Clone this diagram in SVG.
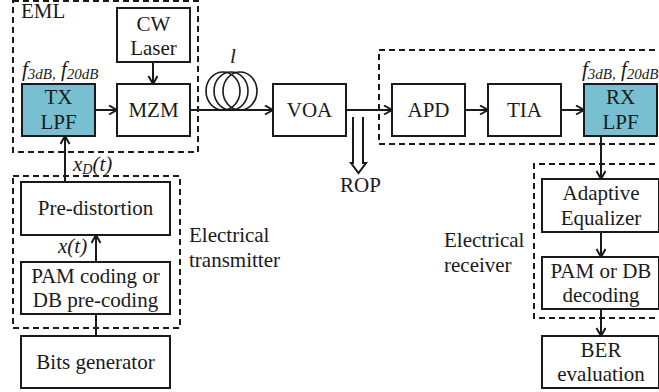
<svg xmlns="http://www.w3.org/2000/svg" width="659" height="392" viewBox="0 0 659 392" font-family="'Liberation Serif', 'DejaVu Serif', serif">
<defs>
<style>
.box{fill:#fff;stroke:#1a1a1a;stroke-width:2}
.lpf{fill:#77bfd1;stroke:#1a1a1a;stroke-width:2}
.dash{fill:none;stroke:#1a1a1a;stroke-width:2;stroke-dasharray:6,4}
text{font-family:'Liberation Serif','DejaVu Serif',serif;font-size:21px;fill:#1a1a1a}
.t{text-anchor:middle}
.i{font-style:italic}
.c{fill:none;stroke:#1a1a1a;stroke-width:2}
.coil{fill:none;stroke:#1a1a1a;stroke-width:1.6}
</style>
<marker id="ah" markerUnits="userSpaceOnUse" markerWidth="12" markerHeight="12" refX="9" refY="5" orient="auto">
<path d="M1,0.5 L9,5 L1,9.5" fill="none" stroke="#1a1a1a" stroke-width="2"/>
</marker>
</defs>

<g id="groups">
<rect id="eml-group" class="dash" x="13" y="1" width="185" height="151"/>
<text x="21" y="18">EML</text>
<rect id="tx-group" class="dash" x="13" y="176" width="167" height="152"/>
<text x="189" y="242">Electrical</text>
<text x="189" y="267">transmitter</text>
<path id="rx-opt-group" class="dash" d="M665,50 H379 V144 H665"/>
<path id="rx-el-group" class="dash" d="M665,164 H534 V318 H665"/>
<text x="444" y="247">Electrical</text>
<text x="444" y="272">receiver</text>
</g>

<g id="connectors">
<line class="c" x1="153" y1="62" x2="153" y2="84" marker-end="url(#ah)"/>
<line class="c" x1="95" y1="110" x2="117" y2="110" marker-end="url(#ah)"/>
<line class="c" x1="190" y1="110" x2="273" y2="110" marker-end="url(#ah)"/>
<line class="c" x1="346" y1="110" x2="392" y2="110" marker-end="url(#ah)"/>
<line class="c" x1="465" y1="110" x2="488" y2="110" marker-end="url(#ah)"/>
<line class="c" x1="561" y1="110" x2="584" y2="110" marker-end="url(#ah)"/>
<line class="c" x1="601" y1="136" x2="601" y2="179" marker-end="url(#ah)"/>
<line class="c" x1="601" y1="232" x2="601" y2="257" marker-end="url(#ah)"/>
<line class="c" x1="601" y1="309" x2="601" y2="336" marker-end="url(#ah)"/>
<line class="c" x1="96" y1="336" x2="96" y2="262" marker-end="url(#ah)"/>
<line class="c" x1="96" y1="262" x2="96" y2="235" marker-end="url(#ah)"/>
<line class="c" x1="65" y1="182" x2="65" y2="136" marker-end="url(#ah)"/>
<text class="i" x="73" y="171">x<tspan font-size="14" dy="3">D</tspan><tspan dy="-3">(t)</tspan></text>
<text class="i" x="58" y="253">x(t)</text>
<polyline class="c" stroke-width="1.6" points="353,117 353,163 351,163 358.5,173 366,163 363,163 363,117"/>
<text x="340" y="192">ROP</text>
</g>

<g id="fiber">
<ellipse class="coil" cx="223" cy="91" rx="17" ry="19"/>
<ellipse class="coil" cx="231" cy="91" rx="17" ry="19"/>
<ellipse class="coil" cx="240" cy="91" rx="17" ry="19"/>
<text class="i" x="230" y="63">l</text>
</g>

<g id="cw-laser">
<rect class="box" x="117" y="8" width="73" height="54"/>
<text class="t" x="153.5" y="31">CW</text>
<text class="t" x="153.5" y="55">Laser</text>
</g>

<g id="tx-lpf">
<text class="i" x="22" y="76">f<tspan font-size="15" dy="3">3dB,</tspan><tspan dy="-3"> f</tspan><tspan font-size="15" dy="3">20dB</tspan></text>
<rect class="lpf" x="22" y="84" width="73" height="52"/>
<text class="t" x="58.5" y="104">TX</text>
<text class="t" x="58.5" y="129">LPF</text>
</g>

<g id="mzm">
<rect class="box" x="117" y="84" width="73" height="52"/>
<text class="t" x="153.5" y="117">MZM</text>
</g>

<g id="voa">
<rect class="box" x="273" y="84" width="73" height="52"/>
<text class="t" x="309.5" y="117">VOA</text>
</g>

<g id="apd">
<rect class="box" x="392" y="84" width="73" height="52"/>
<text class="t" x="428.5" y="117">APD</text>
</g>

<g id="tia">
<rect class="box" x="488" y="84" width="73" height="52"/>
<text class="t" x="524.5" y="117">TIA</text>
</g>

<g id="rx-lpf">
<text class="i" x="582" y="76">f<tspan font-size="15" dy="3">3dB,</tspan><tspan dy="-3"> f</tspan><tspan font-size="15" dy="3">20dB</tspan></text>
<rect class="lpf" x="584" y="84" width="73" height="52"/>
<text class="t" x="620.5" y="104">RX</text>
<text class="t" x="620.5" y="129">LPF</text>
</g>

<g id="pre-distortion">
<rect class="box" x="21" y="182" width="149" height="53"/>
<text class="t" x="95.5" y="215">Pre-distortion</text>
</g>

<g id="pam-coding">
<rect class="box" x="21" y="262" width="149" height="52"/>
<text class="t" x="95.5" y="283">PAM coding or</text>
<text class="t" x="95.5" y="307">DB pre-coding</text>
</g>

<g id="bits-generator">
<rect class="box" x="21" y="336" width="149" height="52"/>
<text class="t" x="95.5" y="369">Bits generator</text>
</g>

<g id="adaptive-equalizer">
<rect class="box" x="542" y="179" width="117" height="53"/>
<text class="t" x="601" y="200">Adaptive</text>
<text class="t" x="601" y="225">Equalizer</text>
</g>

<g id="pam-decoding">
<rect class="box" x="542" y="257" width="117" height="52"/>
<text class="t" x="601" y="278">PAM or DB</text>
<text class="t" x="601" y="302">decoding</text>
</g>

<g id="ber">
<rect class="box" x="542" y="336" width="117" height="52"/>
<text class="t" x="601" y="357">BER</text>
<text class="t" x="601" y="381">evaluation</text>
</g>
</svg>
